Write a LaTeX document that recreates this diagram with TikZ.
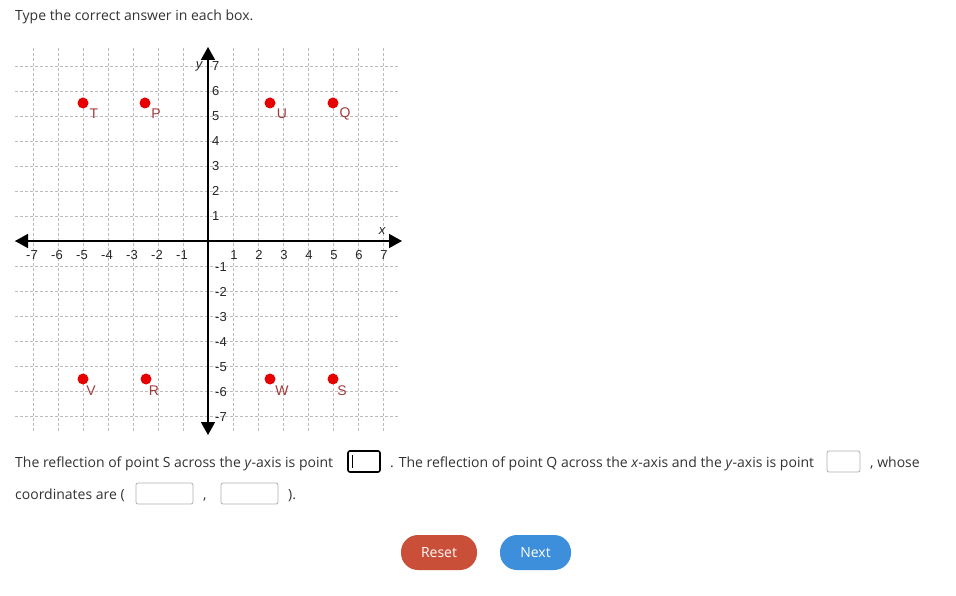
\documentclass[tikz,border=0pt]{standalone}
\usepackage{fontspec}
\setmainfont{Open Sans}
\newfontfamily\axisfont{Liberation Sans}
\usetikzlibrary{arrows.meta}
\definecolor{dotred}{HTML}{E60000}
\definecolor{lblred}{HTML}{A33A3A}
\definecolor{gridgray}{HTML}{BBBBBB}
\definecolor{txt}{HTML}{333333}
\definecolor{resetc}{HTML}{C94F38}
\definecolor{nextc}{HTML}{3D8EDB}
\definecolor{boxgray}{HTML}{B0B0B0}
\begin{document}
\begin{tikzpicture}[x=1pt,y=-1pt,
  gridline/.style={draw=gridgray,line width=0.8pt,dash pattern=on 3pt off 2pt},
  axisline/.style={draw=black,line width=1.5pt},
  tip/.style={-{Triangle[length=13pt,width=14pt]}},
  dot/.style={circle,fill=dotred,inner sep=0pt,minimum size=11pt},
  ptlbl/.style={text=lblred,font=\axisfont\fontsize{14}{14}\selectfont,inner sep=0pt},
  ticklbl/.style={font=\axisfont\fontsize{13}{13}\selectfont,inner sep=0pt,text=black!85},
  body/.style={font=\fontsize{14}{16}\selectfont,text=txt,inner sep=0pt,anchor=base west},
  inbox/.style={draw=boxgray,line width=0.8pt,rounded corners=2pt},
  btn/.style={rounded corners=17pt,text=white,font=\fontsize{14}{16}\selectfont,inner sep=0pt}
]
\useasboundingbox (0,0) rectangle (956,596);
\fill[white] (0,0) rectangle (956,596);

% title
\node[body] (title) at (15,21) {Type the correct answer in each box.};

% grid
\foreach \i in {-7,...,7} \draw[gridline] ({208+25*\i},48) -- ({208+25*\i},432);
\foreach \j in {-7,...,7} \draw[gridline] (15,{241-25*\j}) -- (400,{241-25*\j});

% axes
\coordinate (xl) at (15,241);
\coordinate (xr) at (402,241);
\coordinate (yt) at (208,47);
\coordinate (yb) at (208,435);
\coordinate (o) at (208,241);
\draw[axisline,tip] (o) -- (xr);
\draw[axisline,tip] (o) -- (xl);
\draw[axisline,tip] (o) -- (yt);
\draw[axisline,tip] (o) -- (yb);

% tick labels
\foreach \i in {-7,...,-1} \node[ticklbl] (xn\i) at ({207+25*\i},255) {-\the\numexpr-\i\relax};
\foreach \i in {1,...,7} \node[ticklbl] (xp\i) at ({209+25*\i},255) {\i};
\foreach \j in {1,...,7} \node[ticklbl,anchor=west] (yp\j) at (212,{241-25*\j}) {\j};
\foreach \j in {1,...,7} \node[ticklbl,anchor=west] (yn\j) at (215,{242+25*\j}) {-\j};
\node[ticklbl,font=\axisfont\itshape\fontsize{13}{13}\selectfont] (xlab) at (382,231) {x};
\node[ticklbl,font=\axisfont\itshape\fontsize{13}{13}\selectfont] (ylab) at (199,66) {y};

% points
\node[dot] (T) at (83,103) {};
\node[dot] (P) at (145,103) {};
\node[dot] (U) at (270,103) {};
\node[dot] (Q) at (333,103) {};
\node[dot] (V) at (83,379) {};
\node[dot] (R) at (146,379) {};
\node[dot] (W) at (270,379) {};
\node[dot] (S) at (333,379) {};
\node[ptlbl] (Tl) at (94,114) {T};
\node[ptlbl] (Pl) at (156,114) {P};
\node[ptlbl] (Ul) at (282,114) {U};
\node[ptlbl] (Ql) at (345,114) {Q};
\node[ptlbl] (Vl) at (91,391) {V};
\node[ptlbl] (Rl) at (154,391) {R};
\node[ptlbl] (Wl) at (282,391) {W};
\node[ptlbl] (Sl) at (342,391) {S};

% sentence line 1
\node[body] (s1) at (15,467) {The reflection of point S across the \emph{y}-axis is point};
\draw[draw=black,line width=1.6pt,rounded corners=2pt] (348,451) rectangle (380,472);
\draw[line width=0.8pt] (352,455) -- (352,468);
\node[body] (s2) at (390,467) {. The reflection of point Q across the \emph{x}-axis and the \emph{y}-axis is point};
\draw[inbox] (827,451) rectangle (860,472);
\node[body] (s3) at (870,467) {, whose};
% line 2
\node[body] (s4) at (15,499) {coordinates are (};
\draw[inbox] (136,483) rectangle (193,504);
\node[body] (s5) at (203,499) {,};
\draw[inbox] (221,483) rectangle (278,504);
\node[body] (s6) at (288,499) {).};

% buttons
\fill[resetc,rounded corners=17pt] (401,535) rectangle (477,570);
\node[btn] (reset) at (439,552.5) {Reset};
\fill[nextc,rounded corners=17pt] (500,535) rectangle (571,570);
\node[btn] (next) at (535.5,552.5) {Next};
\end{tikzpicture}
\end{document}
